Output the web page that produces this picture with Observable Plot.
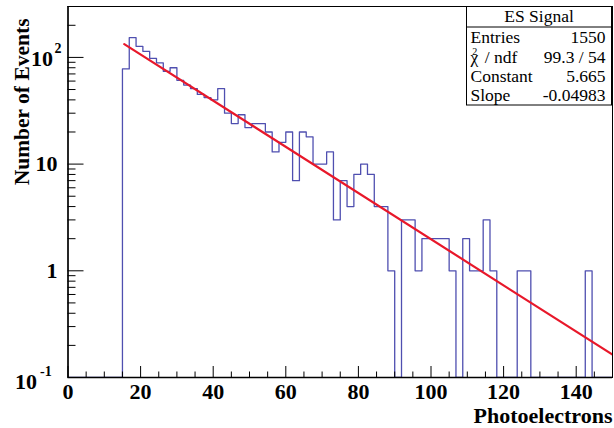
<!DOCTYPE html>
<html><head><meta charset="utf-8">
<script src="https://cdn.jsdelivr.net/npm/d3@7"></script>
<script src="https://cdn.jsdelivr.net/npm/@observablehq/plot@0.6"></script>
<style>
html,body{margin:0;padding:0;background:#fff;}
#chart svg{display:block;}
</style>
</head><body><div id="chart"></div>
<script>
// ---- data ----
const binLow = 0;
const binWidth = 1.875;
const counts = [
  0,0,0,0,0,0,0,0,
  78,153,127,114,98,89,74,80,
  61,55,51,45,42,40,51,30,
  24,29,22,24,24,20,13,16,
  20,7,20,18,10,10,13,3,
  7,4,8,10,8,4,4,1,
  0,3,3,1,2,2,2,2,
  1,0,2,1,1,3,1,0,
  0,0,1,1,0,0,0,0,
  0,0,0,0,1,0,0,0
];
const fitConstant = 5.665;
const fitSlope = -0.04983;
const fitRange = [15.5, 150];
const xDomain = [0, 150];
const yDomain = [0.1, 300];
const xMajor = [0, 20, 40, 60, 80, 100, 120, 140];
const xMinor = [5,10,15,25,30,35,45,50,55,65,70,75,85,90,95,105,110,115,125,130,135,145];
const yMajor = [0.1, 1, 10, 100];
const yMantissa = ["10", "1", "10", "10"];
const yExponent = ["-1", "", "", "2"];
const yMinor = [0.2,0.3,0.4,0.5,0.6,0.7,0.8,0.9,2,3,4,5,6,7,8,9,20,30,40,50,60,70,80,90,200,300];
const xTitle = "Photoelectrons";
const yTitle = "Number of Events";
const statsTitle = "ES Signal";
const statsLabels = ["Entries", "χ2 / ndf", "Constant", "Slope"];
const statsValues = ["1550", "99.3 / 54", "5.665", "-0.04983"];

// ---- derived tables ----
const hist = counts.map((c, i) => ({x: binLow + i * binWidth, y: c > 0 ? c : yDomain[0]}));
hist.push({x: binLow + counts.length * binWidth, y: hist[hist.length - 1].y});
const fitPts = fitRange.map(x => ({x, y: Math.exp(fitConstant + fitSlope * x)}));
const yLab = yMajor.map((v, i) => ({v, m: yMantissa[i], e: yExponent[i]}));

// ---- layout ----
const W = 614, H = 428, mL = 67.5, mR = 2, mT = 6, mB = 51;
const innerW = W - mL - mR, innerH = H - mT - mB;
const font = "Liberation Serif, Times New Roman, serif";
const histColor = "#4f4fb0";
const fitColor = "#e8182a";

const chart = Plot.plot({
  width: W, height: H,
  marginLeft: mL, marginRight: mR, marginTop: mT, marginBottom: mB,
  style: {fontFamily: font, background: "white", overflow: "visible"},
  x: {domain: xDomain, axis: null},
  y: {type: "log", domain: yDomain, axis: null},
  marks: [
    Plot.line(hist, {x: "x", y: "y", curve: "step-after", stroke: histColor, strokeWidth: 1.3, clip: true}),
    Plot.line(fitPts, {x: "x", y: "y", stroke: fitColor, strokeWidth: 2.2, clip: true}),
    // x ticks (inside, from bottom)
    Plot.ruleX(xMajor, {x: d => d, insetTop: innerH - 11, stroke: "black", strokeWidth: 1}),
    Plot.ruleX(xMinor, {x: d => d, insetTop: innerH - 5.5, stroke: "black", strokeWidth: 1}),
    // y ticks (inside, from left)
    Plot.ruleY(yMajor, {y: d => d, insetRight: innerW - 16, stroke: "black", strokeWidth: 1}),
    Plot.ruleY(yMinor, {y: d => d, insetRight: innerW - 8, stroke: "black", strokeWidth: 1}),
    Plot.frame({stroke: "black", strokeWidth: 1}),
    Plot.ruleY([yDomain[0]], {stroke: "black", strokeWidth: 1.6}),
    Plot.ruleX([xDomain[0]], {stroke: "black", strokeWidth: 1.4}),
    // x tick labels
    Plot.axisX(xMajor, {tickSize: 0, tickPadding: 6, fontSize: 22, fontWeight: "bold", fontFamily: font, tickFormat: d => String(d), label: null, fill: "black"}),
    // y tick labels: plain
    Plot.text(yLab.filter(d => d.e === ""), {y: "v", text: "m", frameAnchor: "left", textAnchor: "end", dx: -10.5, fontSize: 22, fontWeight: "bold", fill: "black"}),
    // 10^2
    Plot.text(yLab.filter(d => d.e === "2"), {y: "v", text: "m", frameAnchor: "left", textAnchor: "end", dx: -15, dy: 2, fontSize: 22, fontWeight: "bold", fill: "black"}),
    Plot.text(yLab.filter(d => d.e === "2"), {y: "v", text: "e", frameAnchor: "left", textAnchor: "start", dx: -13.5, dy: -9, fontSize: 14, fontWeight: "bold", fill: "black"}),
    // 10^-1
    Plot.text(yLab.filter(d => d.e === "-1"), {y: "v", text: "m", frameAnchor: "left", textAnchor: "end", dx: -31, dy: 4, fontSize: 22, fontWeight: "bold", fill: "black"}),
    Plot.text(yLab.filter(d => d.e === "-1"), {y: "v", text: "e", frameAnchor: "left", textAnchor: "start", dx: -28, dy: -6, fontSize: 14, fontWeight: "bold", fill: "black"}),
    // axis titles
    Plot.text([xTitle], {frameAnchor: "bottom-right", textAnchor: "end", lineAnchor: "bottom", dy: 45, fontSize: 22, fontWeight: "bold", fill: "black"}),
    Plot.text([yTitle], {frameAnchor: "top-left", textAnchor: "end", lineAnchor: "middle", rotate: -90, dx: -46, dy: 12, fontSize: 21.5, fontWeight: "bold", fill: "black"})
  ]
});
document.getElementById("chart").appendChild(chart);

// ---- stats box ----
const svg = d3.select(chart);
const g = svg.append("g").attr("font-family", font).attr("font-size", 17.5).attr("fill", "black").attr("text-anchor", "start");
const bx = 466.5, by = 6.5, bw = 145, bh = 98.5;
g.append("rect").attr("x", bx).attr("y", by).attr("width", bw).attr("height", bh)
  .attr("fill", "white").attr("stroke", "black").attr("stroke-width", 1);
g.append("line").attr("x1", bx).attr("x2", bx + bw).attr("y1", 27).attr("y2", 27).attr("stroke", "black");
g.append("text").attr("x", bx + bw / 2).attr("y", 22).attr("text-anchor", "middle").text(statsTitle);
const rowY = [43, 62.5, 81.5, 100.5];
statsLabels.forEach((lab, i) => {
  const t = g.append("text").attr("x", bx + 4).attr("y", rowY[i]).attr("text-anchor", "start");
  if (lab.startsWith("χ2")) {
    t.append("tspan").text("χ");
    t.append("tspan").attr("font-size", 10).attr("dx", -6).attr("dy", -8).text("2");
    t.append("tspan").attr("dy", 8).attr("dx", 3).text(lab.slice(2));
  } else {
    t.text(lab);
  }
  g.append("text").attr("x", bx + bw - 6).attr("y", rowY[i]).attr("text-anchor", "end").text(statsValues[i]);
});
</script>
</body></html>
